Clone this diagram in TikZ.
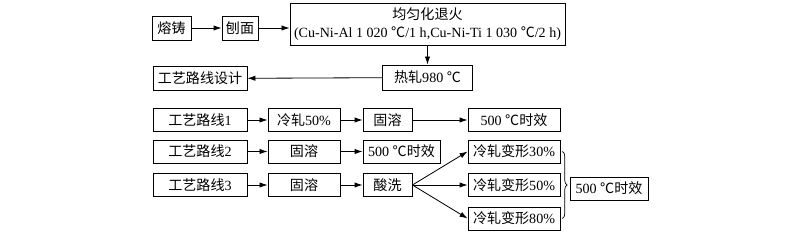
\documentclass[tikz,border=0pt]{standalone}
\usepackage{fontspec}
\setmainfont{Liberation Serif}
\newfontfamily\cjk{Noto Sans CJK SC}
\usetikzlibrary{arrows.meta,decorations.pathreplacing}
\newcommand\degc{{\cjk ℃}}
\tikzset{
  box/.style={draw, line width=0.7pt, inner sep=0pt, minimum height=0.69cm,
    font=\fontsize{12}{15}\selectfont},
  arr/.style={line width=0.7pt, -{Latex[length=2.4mm,width=1.6mm]}},
}
\begin{document}
\begin{tikzpicture}[x=0.03cm,y=-0.03cm]
  \useasboundingbox (0,0) rectangle (800,234);
  % preparation
  \node[box,minimum width=1.17cm,minimum height=0.72cm] (melt) at (171.5,28) {\cjk 熔铸};
  \node[box,minimum width=1.08cm,minimum height=0.72cm] (plane) at (240,28) {\cjk 刨面};
  \node[box,minimum width=8.25cm,minimum height=1.26cm,align=center] (anneal) at (427.5,24)
    {{\cjk 均匀化退火}\\(Cu-Ni-Al 1 020 \degc/1 h,Cu-Ni-Ti 1 030 \degc/2 h)};
  \node[box,minimum width=2.7cm,minimum height=0.75cm] (hot) at (427.5,77.5) {{\cjk 热轧}980 \degc};
  \node[box,minimum width=2.82cm,minimum height=0.72cm] (design) at (200,78.5) {\cjk 工艺路线设计};
  \draw[arr] (melt) -- (plane);
  \draw[arr] (plane) -- (anneal.west |- plane);
  \draw[arr] (anneal) -- (hot);
  \draw[arr] (hot) -- (design);
  % route 1
  \node[box,minimum width=2.82cm] (r1) at (200,120) {{\cjk 工艺路线}1};
  \node[box,minimum width=2.16cm] (r1a) at (304,120) {{\cjk 冷轧}50\%};
  \node[box,minimum width=1.47cm] (r1b) at (387.5,120) {\cjk 固溶};
  \node[box,minimum width=2.76cm] (r1c) at (514,120) {500 \degc{\cjk 时效}};
  \draw[arr] (r1) -- (r1a);
  \draw[arr] (r1a) -- (r1b);
  \draw[arr] (r1b) -- (r1c);
  % route 2
  \node[box,minimum width=2.82cm] (r2) at (200,151.5) {{\cjk 工艺路线}2};
  \node[box,minimum width=2.16cm] (r2a) at (304,151.5) {\cjk 固溶};
  \node[box,minimum width=2.31cm] (r2b) at (401.5,151.5) {500 \degc{\cjk 时效}};
  \draw[arr] (r2) -- (r2a);
  \draw[arr] (r2a) -- (r2b);
  % route 3
  \node[box,minimum width=2.82cm] (r3) at (200,185) {{\cjk 工艺路线}3};
  \node[box,minimum width=2.16cm] (r3a) at (304,185) {\cjk 固溶};
  \node[box,minimum width=1.47cm] (r3b) at (387.5,185) {\cjk 酸洗};
  \node[box,minimum width=2.76cm] (c30) at (514,151.5) {{\cjk 冷轧变形}30\%};
  \node[box,minimum width=2.76cm] (c50) at (514,185) {{\cjk 冷轧变形}50\%};
  \node[box,minimum width=2.76cm] (c80) at (514,218.5) {{\cjk 冷轧变形}80\%};
  \node[box,minimum width=2.34cm] (age) at (609,188.5) {500 \degc{\cjk 时效}};
  \draw[arr] (r3) -- (r3a);
  \draw[arr] (r3a) -- (r3b);
  \draw[arr] (r3b.east) -- (c30.west);
  \draw[arr] (r3b.east) -- (c50.west);
  \draw[arr] (r3b.east) -- (c80.west);
  % brace to ageing
  \draw[line width=0.6pt,decorate,decoration={brace,amplitude=4pt}]
    ([xshift=0.06cm]c30.east) -- ([xshift=0.06cm]c80.east);
\end{tikzpicture}
\end{document}
